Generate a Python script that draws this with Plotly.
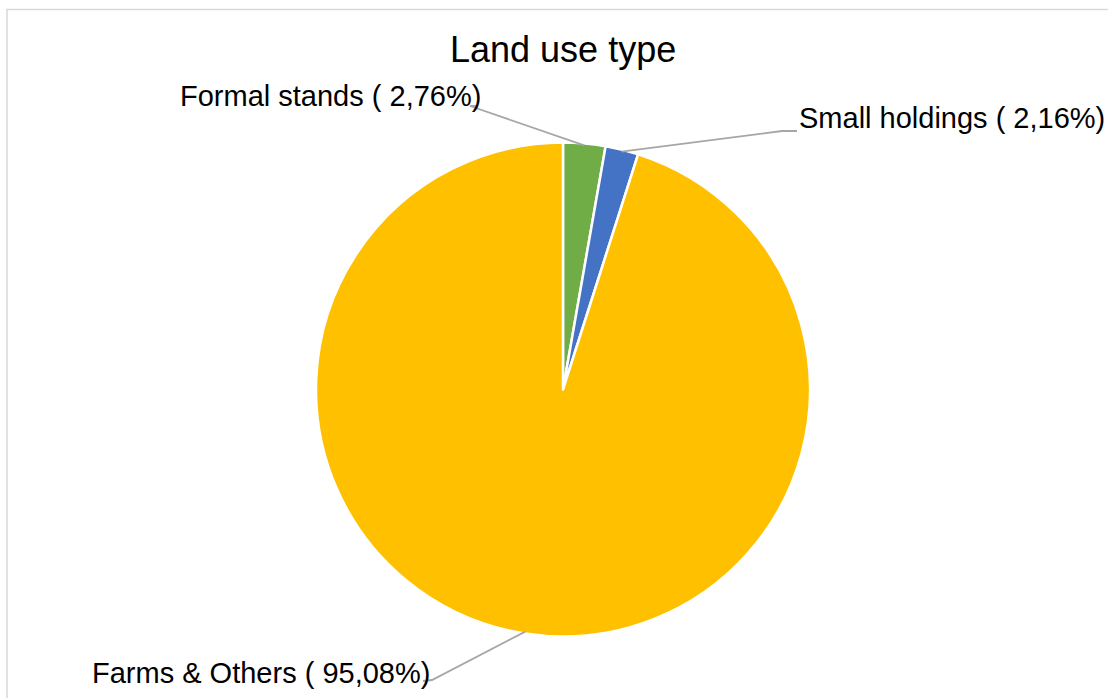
import math
import plotly.graph_objects as go

# Land use shares (percent), in slice order clockwise from 12 o'clock
categories = ["Formal stands", "Small holdings", "Farms & Others"]
shares = [2.76, 2.16, 95.08]
share_labels = ["2,76%", "2,16%", "95,08%"]
colors = ["#70AD47", "#4472C4", "#FFC000"]

W, H = 1108, 698
# Pie geometry in pixels (R is the drawn radius; the domain gets a small pad)
CX, CY, R = 563, 389.5, 245
DOMAIN_R = R + 2


def px(x):
    return x / W


def py(y):
    return 1 - y / H


fig = go.Figure(
    go.Pie(
        labels=categories,
        values=shares,
        sort=False,
        direction="clockwise",
        rotation=0,
        marker=dict(colors=colors, line=dict(color="white", width=2.5)),
        textinfo="none",
        hoverinfo="label+percent",
        showlegend=False,
        domain=dict(x=[px(CX - DOMAIN_R), px(CX + DOMAIN_R)],
                    y=[py(CY + DOMAIN_R), py(CY - DOMAIN_R)]),
    )
)

# Mid-angle of every slice (degrees clockwise from 12 o'clock) -> edge point
total = sum(shares)
edge_pts = []
acc = 0.0
for v in shares:
    mid = (acc + v / 2) / total * 360.0
    acc += v
    a = math.radians(mid)
    edge_pts.append((CX + R * math.sin(a), CY - R * math.cos(a)))

# Label placement: (anchor x, anchor y, xanchor, leader-line path points)
label_layout = [
    (483, 96, "right", [(470, 106), (478, 106)]),
    (797, 118, "left", [(782, 131), (797, 131)]),
    (432, 673, "right", [(432, 680), (423, 681)]),
]

font = dict(family="Liberation Sans, Arial, sans-serif", color="#000000")
annotations = []
shapes = []
for name, lab, (ex, ey), (lx, ly, xa, path) in zip(categories, share_labels, edge_pts, label_layout):
    annotations.append(
        dict(
            x=px(lx), y=py(ly), xref="paper", yref="paper",
            text=f"{name} ( {lab})", showarrow=False,
            xanchor=xa, yanchor="middle",
            font=dict(size=29, **font),
        )
    )
    pts = [(ex, ey)] + path
    d = "M " + " L ".join(f"{px(x)},{py(y)}" for x, y in pts)
    shapes.append(
        dict(type="path", path=d, xref="paper", yref="paper",
             line=dict(color="#A6A6A6", width=1.8))
    )

# Chart area frame
shapes.append(
    dict(type="rect", xref="paper", yref="paper",
         x0=px(7), x1=px(W + 20), y0=py(H + 20), y1=py(9.5),
         line=dict(color="#D9D9D9", width=1.5), fillcolor="rgba(0,0,0,0)",
         layer="below")
)

annotations.append(
    dict(x=px(563), y=py(50), xref="paper", yref="paper",
         text="Land use type", showarrow=False,
         xanchor="center", yanchor="middle",
         font=dict(size=36, **font))
)

fig.update_layout(
    width=W, height=H,
    margin=dict(l=0, r=0, t=0, b=0),
    paper_bgcolor="white",
    plot_bgcolor="white",
    annotations=annotations,
    shapes=shapes,
)

fig.write_html("out.html")
